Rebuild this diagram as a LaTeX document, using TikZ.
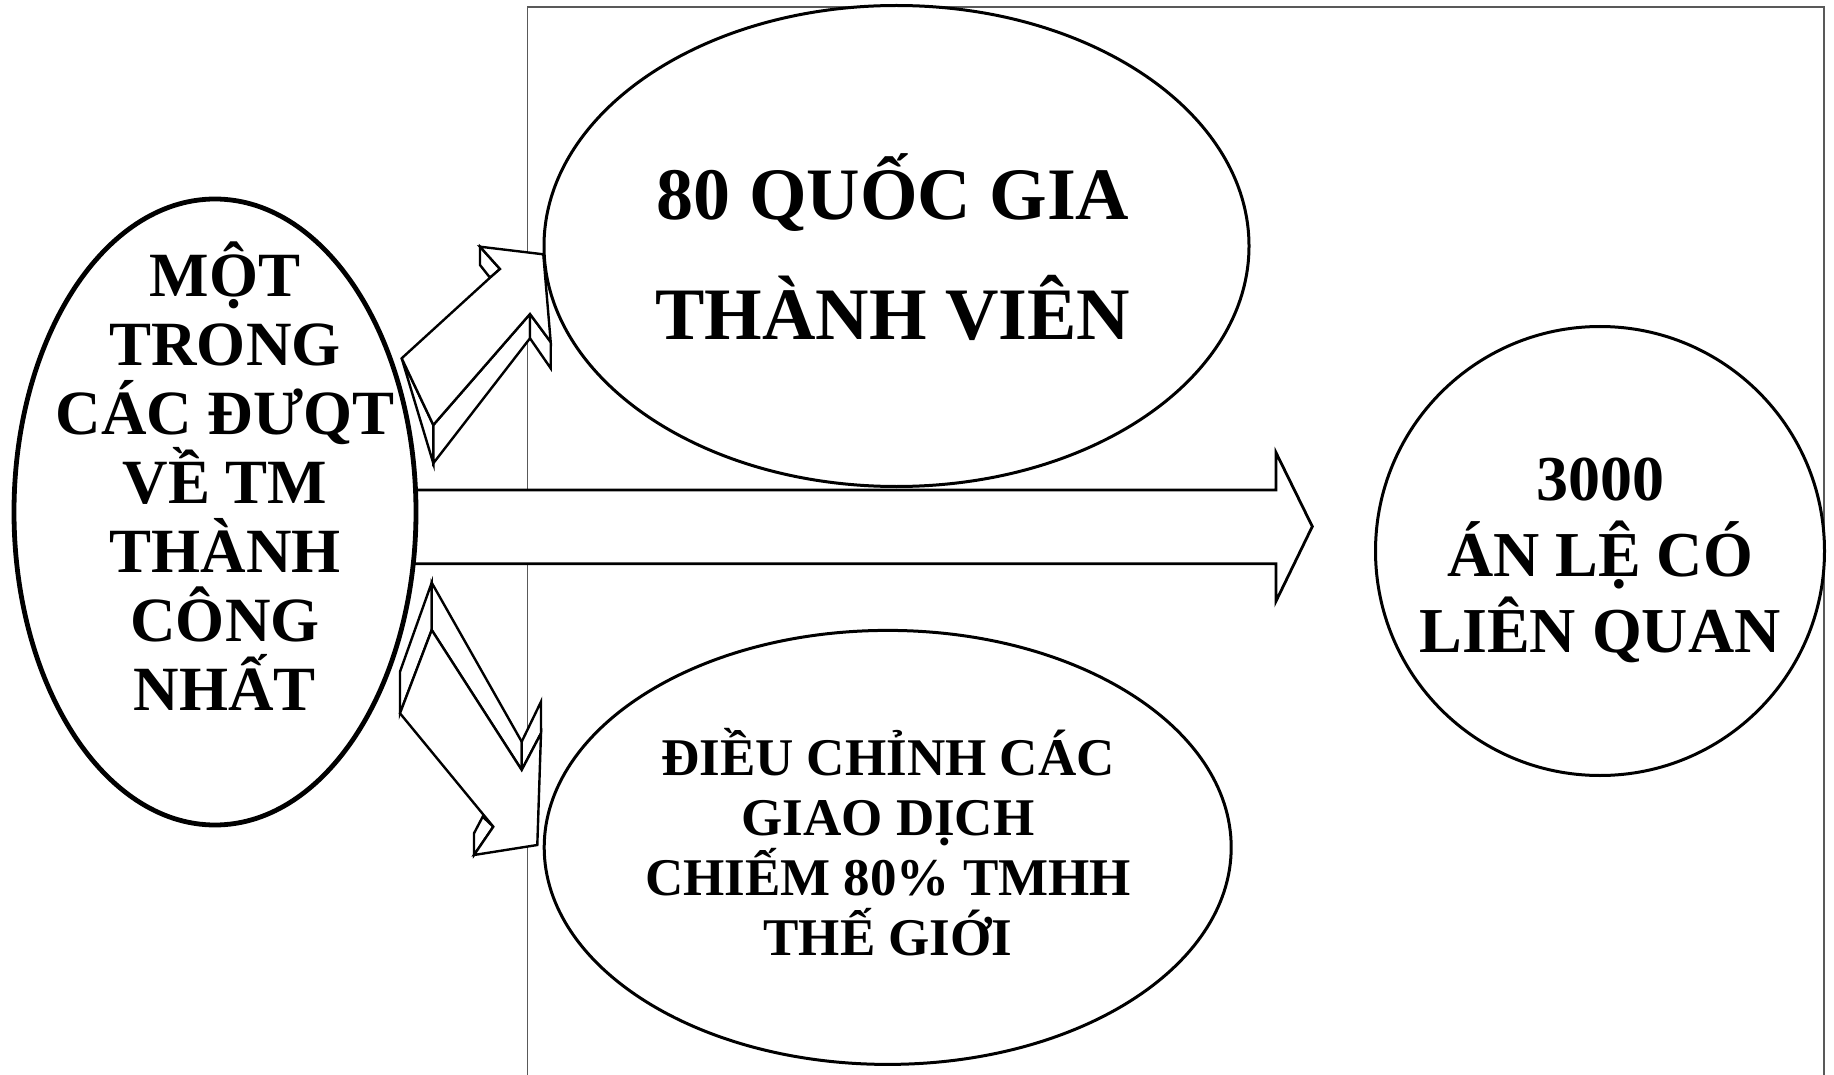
\documentclass[tikz,border=0pt]{standalone}
\usepackage{fontspec}
\setmainfont{Liberation Serif}
\usetikzlibrary{shapes.geometric}
\lineskiplimit=-100pt

\begin{document}
\begin{tikzpicture}[x=1pt,y=-1pt,line join=miter]
  \tikzstyle{oval}=[ellipse,draw,fill=white,inner sep=0pt,line width=3pt]
  \tikzstyle{face}=[draw,fill=white,line width=2.4pt]
  \tikzstyle{caption}=[align=center,inner sep=0pt,anchor=base]

  \useasboundingbox (0,0) rectangle (1834,1075);

  % thin frame behind the right part
  \draw[black!65,line width=1.3pt] (527.5,1075) -- (527.5,7) -- (1824,7) -- (1824,1075);

  % upper 3d arrow
  \draw[face] (401.7,358.3) -- (433.3,425) -- (433.3,463.3) -- cycle;
  \draw[face] (433.3,425) -- (530,314) -- (530,338.3) -- (433.3,463.3) -- cycle;
  \draw[face] (530,314) -- (550.7,342) -- (550.7,368.3) -- (530,338.3) -- cycle;
  \draw[face] (480,246.7) -- (480,265) -- (490,277.7) -- (500,269) -- cycle;
  \draw[face] (401.7,358.3) -- (490,277.7) -- (500,269) -- (480,246.7) -- (543.3,254.3)
    -- (550.7,342) -- (530,314) -- (433.3,425) -- cycle;

  % lower 3d arrow
  \draw[face] (431.7,582.7) -- (431.7,630) -- (400,713.3) -- (400,671.7) -- cycle;
  \draw[face] (431.7,582.7) -- (521.7,741.7) -- (521.7,770) -- (431.7,630) -- cycle;
  \draw[face] (521.7,741.7) -- (541,701.7) -- (541,733.3) -- (521.7,770) -- cycle;
  \draw[face] (474,855) -- (474,833.3) -- (482.7,816.7) -- (493.3,826.7) -- cycle;
  \draw[face] (431.7,630) -- (521.7,770) -- (541,733.3) -- (537.3,845) -- (474,855)
    -- (493.3,826.7) -- (400,713.3) -- cycle;

  % middle arrow
  \draw[face,line width=2.8pt] (413,490) -- (1276,490) -- (1276,452.6) -- (1312.3,526.5)
    -- (1276,601.2) -- (1276,563.7) -- (413,563.7);

  \node[oval,line width=4.8pt,minimum width=402pt,minimum height=626pt] (wto) at (215,512) {};
  \node[oval,minimum width=705pt,minimum height=481pt] (members) at (896.5,246) {};
  \node[oval,minimum width=687pt,minimum height=434pt] (rules) at (887.7,847.4) {};
  \node[oval,minimum width=449pt,minimum height=449pt] (cases) at (1600,551) {};

  % anchor=base sits on the last line
  \node[caption,font=\bfseries\fontsize{63}{69}\selectfont] (wto-txt) at (225,710)
    {MỘT\\TRONG\\CÁC ĐƯQT\\VỀ TM\\THÀNH\\CÔNG\\NHẤT};
  \node[caption,font=\bfseries\fontsize{74}{120}\selectfont] (members-txt) at (893,340)
    {80 QUỐC GIA\\THÀNH VIÊN};
  \node[caption,font=\bfseries\fontsize{64}{76}\selectfont] (cases-txt) at (1600,652)
    {3000\\ÁN LỆ CÓ\\LIÊN QUAN};
  \node[caption,font=\bfseries\fontsize{53}{60}\selectfont] (rules-txt) at (888,955.6)
    {ĐIỀU CHỈNH CÁC\\GIAO DỊCH\\CHIẾM 80\% TMHH\\THẾ GIỚI};
\end{tikzpicture}
\end{document}
